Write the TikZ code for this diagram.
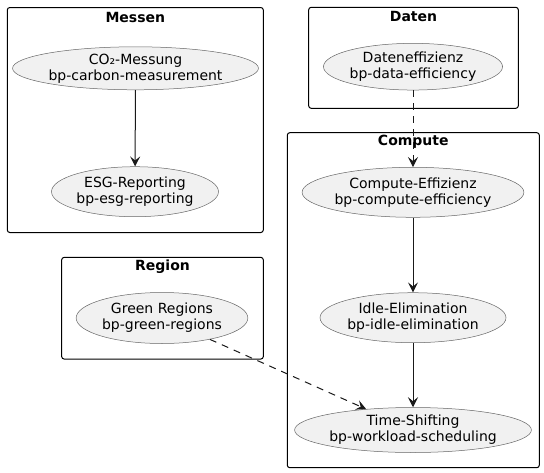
\documentclass[tikz,border=0pt]{standalone}
\usepackage{fontspec}
\setmainfont{DejaVu Sans}
\usetikzlibrary{shapes.geometric,arrows.meta,calc}
\newcommand\bp[2]{#1\\bp-#2}
\tikzset{
  uc/.style={ellipse, draw=black!60, fill=black!5.5, line width=.5pt,
    inner sep=0pt, align=center, font=\fontsize{14}{16}\selectfont},
  pkg/.style={draw, line width=1pt, rounded corners=2.5pt},
  pkgtitle/.style={font=\fontsize{14}{16}\selectfont\bfseries, inner sep=0pt},
  flow/.style={-{Stealth[length=10pt,width=10pt,inset=4pt]}, line width=1pt,
    draw=black!90},
  dep/.style={flow, dash pattern=on 7pt off 6pt}
}

\begin{document}
\begin{tikzpicture}[x=1pt, y=-1pt]
  \useasboundingbox (0,0) rectangle (544,472);

  \node[pkg, minimum width=256pt, minimum height=225pt] at (135.3,120) (messen) {};
  \node[pkgtitle] at ($(messen.north)+(0,10)$) {Messen};
  \node[pkg, minimum width=209.6pt, minimum height=101pt] at (413.5,57.8) (daten) {};
  \node[pkgtitle] at ($(daten.north)+(0,10)$) {Daten};
  \node[pkg, minimum width=252pt, minimum height=335pt] at (413.3,300.2) (compute) {};
  \node[pkgtitle] at ($(compute.north)+(0,10)$) {Compute};
  \node[pkg, minimum width=201.6pt, minimum height=101.7pt] at (162.5,308.2) (region) {};
  \node[pkgtitle] at ($(region.north)+(0,10)$) {Region};

  \node[uc, minimum width=226pt, minimum height=43pt] at (135.5,68.3) (co2)
    {\bp{CO₂-Messung}{carbon-measurement}};
  \node[uc, minimum width=167pt, minimum height=50pt] at (135,191.7) (esg)
    {\bp{ESG-Reporting}{esg-reporting}};
  \node[uc, minimum width=177pt, minimum height=46.7pt] at (413,66.7) (data)
    {\bp{Dateneffizienz}{data-efficiency}};
  \node[uc, minimum width=220pt, minimum height=50pt] at (413,192.3) (comp)
    {\bp{Compute-Effizienz}{compute-efficiency}};
  \node[uc, minimum width=186pt, minimum height=50pt] at (413,317.7) (idle)
    {\bp{Idle-Elimination}{idle-elimination}};
  \node[uc, minimum width=220.6pt, minimum height=45pt] at (413,430) (time)
    {\bp{Time-Shifting}{workload-scheduling}};
  \node[uc, minimum width=171.7pt, minimum height=51pt] at (162,318) (green)
    {\bp{Green Regions}{green-regions}};

  \draw[flow] (co2) -- (esg);
  \draw[dep]  (data) -- (comp);
  \draw[flow] (comp) -- (idle);
  \draw[flow] (idle) -- (time);
  \draw[dep]  (green) -- (time);

\end{tikzpicture}
\end{document}
